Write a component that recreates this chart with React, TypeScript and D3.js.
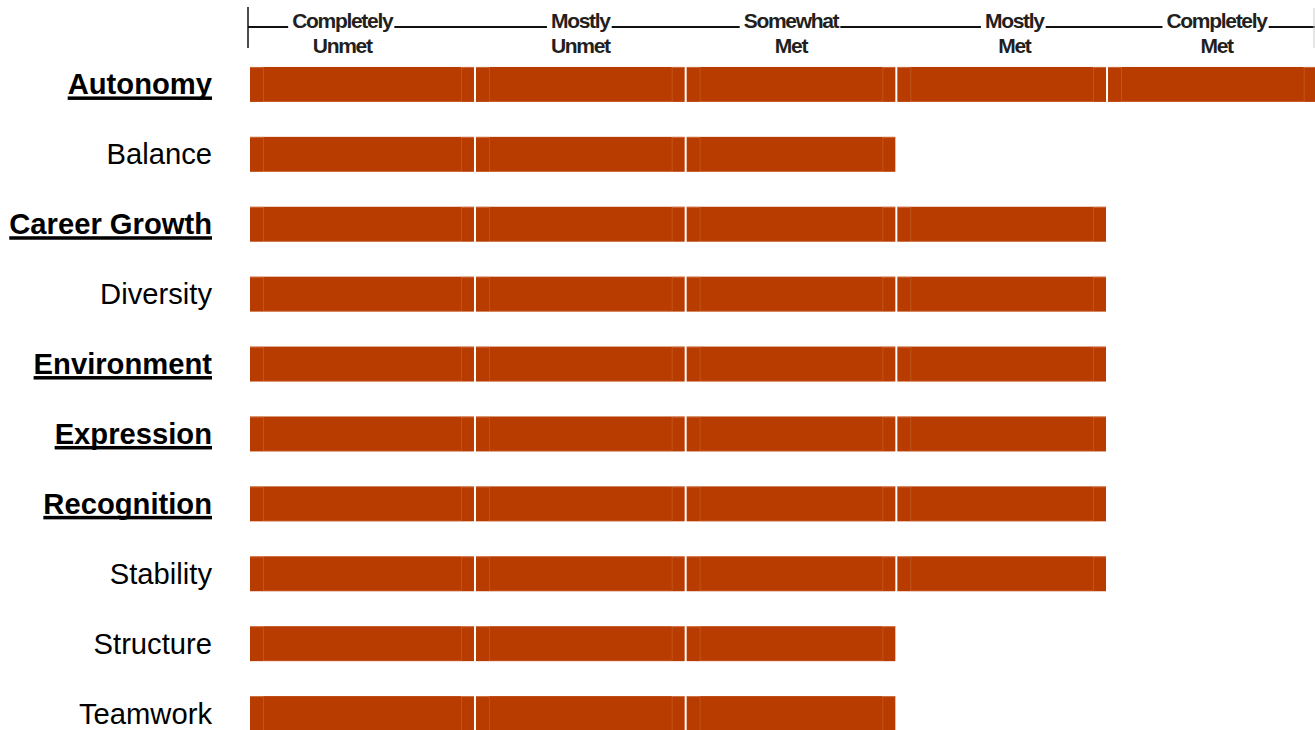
import React, { useRef, useEffect } from 'react';
import { select, scaleLinear, scaleBand } from 'd3';

const categories = [
    'Autonomy', 'Balance', 'Career Growth', 'Diversity', 'Environment',
    'Expression', 'Recognition', 'Stability', 'Structure', 'Teamwork',
];
// how many levels are met (1..5) per category
const levelsMet = [5, 3, 4, 4, 4, 4, 4, 4, 3, 3];
const emphasized = [true, false, true, false, true, true, true, false, false, false];

const levelLabels = [
    ['Completely', 'Unmet'],
    ['Mostly', 'Unmet'],
    ['Somewhat', 'Met'],
    ['Mostly', 'Met'],
    ['Completely', 'Met'],
];
// where each header label sits, in level units
const levelLabelPos = [0.37, 1.5, 2.5, 3.56, 4.52];

const W = 1315;
const H = 730;
const FONT = 'Arial, "Liberation Sans", sans-serif';
const BAR = '#b83c00';
const EDGE = '#dc8a62';

export default function App() {
    const svgRef = useRef<SVGSVGElement>(null);

    useEffect(() => {
        const svg = select(svgRef.current);
        svg.selectAll('*').remove();

        const left = 250;
        const x = scaleLinear().domain([0, 5]).range([264.3, 1317.7]);
        const y = scaleBand<string>()
            .domain(categories)
            .range([32, 766])
            .paddingInner(0.5)
            .paddingOuter(0.5);
        const bw = y.bandwidth();

        // header line with level labels
        const header = svg.append('g');
        header.append('line')
            .attr('x1', 248).attr('x2', W)
            .attr('y1', 27).attr('y2', 27)
            .attr('stroke', '#111').attr('stroke-width', 2);
        header.append('line')
            .attr('x1', 248).attr('x2', 248)
            .attr('y1', 7).attr('y2', 48)
            .attr('stroke', '#111').attr('stroke-width', 1.5);
        header.append('line')
            .attr('x1', 1314).attr('x2', 1314)
            .attr('y1', 8).attr('y2', 48)
            .attr('stroke', '#ccc').attr('stroke-width', 1);

        levelLabels.forEach((lines, i) => {
            const cx = x(levelLabelPos[i]);
            const g = header.append('g');
            const bg = g.append('rect').attr('fill', '#fff');
            const t1 = g.append('text')
                .attr('x', cx).attr('y', 28)
                .attr('text-anchor', 'middle')
                .attr('font-family', FONT)
                .attr('font-weight', 'bold')
                .attr('font-size', 21)
                .attr('letter-spacing', -1.3)
                .attr('fill', '#231f20')
                .text(lines[0]);
            g.append('text')
                .attr('x', cx).attr('y', 53)
                .attr('text-anchor', 'middle')
                .attr('font-family', FONT)
                .attr('font-weight', 'bold')
                .attr('font-size', 21)
                .attr('letter-spacing', -1.3)
                .attr('fill', '#231f20')
                .text(lines[1]);
            const len = (t1.node() as SVGTextElement).getComputedTextLength();
            bg.attr('x', cx - len / 2 - 4).attr('width', len + 6)
                .attr('y', 10).attr('height', 24);
        });

        // category labels
        categories.forEach((c, i) => {
            const cy = (y(c) as number) + bw / 2;
            const t = svg.append('text')
                .attr('x', 212).attr('y', cy + 10)
                .attr('text-anchor', 'end')
                .attr('font-family', FONT)
                .attr('font-size', 29.2)
                .attr('font-weight', emphasized[i] ? 'bold' : 'normal')
                .attr('fill', '#000')
                .text(c);
            if (emphasized[i]) {
                const len = (t.node() as SVGTextElement).getComputedTextLength();
                svg.append('rect')
                    .attr('x', 212 - len).attr('width', len)
                    .attr('y', cy + 12).attr('height', 3.5)
                    .attr('fill', '#000');
            }
        });

        // bars, one segment per met level
        categories.forEach((c, i) => {
            const top = y(c) as number;
            const g = svg.append('g');
            for (let k = 0; k < levelsMet[i]; k++) {
                const x0 = k === 0 ? left : x(k) + 1;
                const x1 = x(k + 1) - 1;
                g.append('rect')
                    .attr('x', x0).attr('y', top)
                    .attr('width', x1 - x0).attr('height', bw)
                    .attr('fill', BAR);
                // faint bevel marks
                [x0 + 13, x1 - 13].forEach(vx => {
                    g.append('line')
                        .attr('x1', vx + 0.5).attr('x2', vx + 0.5)
                        .attr('y1', top).attr('y2', top + bw)
                        .attr('stroke', EDGE).attr('stroke-opacity', 0.3);
                });
                [[x0, x0 + 13], [x1 - 13, x1]].forEach(([a, b]) => {
                    g.append('line')
                        .attr('x1', a).attr('x2', b)
                        .attr('y1', top + 0.5).attr('y2', top + 0.5)
                        .attr('stroke', EDGE).attr('stroke-opacity', 0.6);
                });
                g.append('line')
                    .attr('x1', x0 + 13).attr('x2', x1 - 13)
                    .attr('y1', top + bw - 0.5).attr('y2', top + bw - 0.5)
                    .attr('stroke', EDGE).attr('stroke-opacity', 0.35);
            }
        });
    }, []);

    return (
        <div style={{ position: 'absolute', left: 0, top: 0 }}>
            <svg width={W} height={H} ref={svgRef} style={{ display: 'block', background: '#fff' }}></svg>
        </div>
    );
}
